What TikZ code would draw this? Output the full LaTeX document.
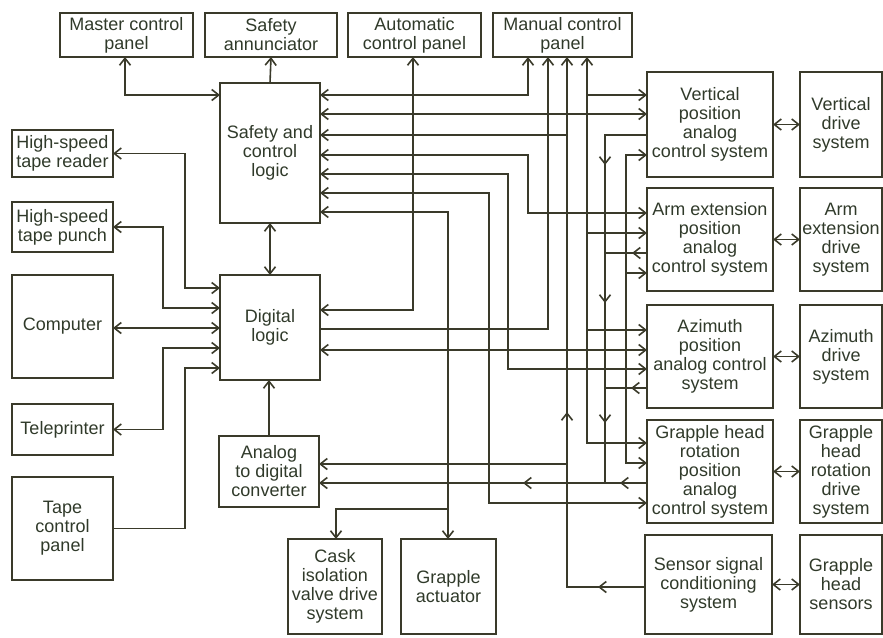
\documentclass[tikz,border=0pt]{standalone}
\usepackage{fontspec}
\setmainfont{Liberation Sans}
\usetikzlibrary{arrows.meta}
\definecolor{boxline}{RGB}{58,58,42}
\definecolor{boxtext}{RGB}{48,58,42}

\begin{document}
\begin{tikzpicture}[
  x=1pt, y=-1pt,
  >={Straight Barb[length=7pt,width=11pt]},
  every node/.style={
    draw=boxline, line width=1.4pt, text=boxtext, align=center,
    inner sep=0pt, outer sep=0pt, font=\fontsize{18}{19}\selectfont
  },
  toppanel/.style={minimum width=133pt, minimum height=44pt},
  leftunit/.style={minimum width=101pt},
  ctrlsys/.style={minimum width=126pt, minimum height=104pt},
  drivesys/.style={minimum width=82pt, minimum height=104pt},
  link/.style={draw=boxline, line width=1.6pt},
  ar/.style={link, ->},
  bi/.style={link, <->},
]
\useasboundingbox (0,0) rectangle (883,637);

% ---- Panels along the top ----
\node[toppanel]                    (mcp) at (126.5,35) {Master control\\panel};
\node[toppanel, minimum width=132pt] (ann) at (271,35)   {Safety\\annunciator};
\node[toppanel]                    (acp) at (414.5,35) {Automatic\\control panel};
\node[toppanel, minimum width=139pt] (man) at (562.5,35) {Manual control\\panel};

% ---- Logic column ----
\node[minimum width=100pt, minimum height=140pt] (scl)  at (270,153)   {Safety and\\control\\logic};
\node[minimum width=100pt, minimum height=105pt] (dl)   at (270,327.5) {Digital\\logic};
\node[minimum width=100pt, minimum height=71pt]  (adc)  at (269,471.5) {Analog\\to digital\\converter};
\node[minimum width=94pt,  minimum height=95pt]  (cask) at (335,586.5) {Cask\\isolation\\valve drive\\system};
\node[minimum width=95pt,  minimum height=95pt]  (gact) at (448.5,586.5) {Grapple\\actuator};

% ---- Peripherals on the left ----
\node[leftunit, minimum height=47pt]  (hstr) at (62.5,153.5) {High-speed\\tape reader};
\node[leftunit, minimum height=50pt]  (hstp) at (62.5,227)   {High-speed\\tape punch};
\node[leftunit, minimum height=103pt] (comp) at (62.5,326.5) {Computer};
\node[leftunit, minimum height=51pt]  (tele) at (62.5,429.5) {Teleprinter};
\node[leftunit, minimum height=103pt] (tcp)  at (62.5,528.5) {Tape\\control\\panel};

% ---- Control and drive systems on the right ----
\node[ctrlsys, minimum height=105pt]  (vcs) at (710,124.5) {Vertical\\position\\analog\\control system};
\node[drivesys, minimum height=105pt] (vds) at (841,124.5) {Vertical\\drive\\system};
\node[ctrlsys, minimum height=103pt]  (acs) at (710,239.5) {Arm extension\\position\\analog\\control system};
\node[drivesys, minimum height=103pt] (ads) at (841,239.5) {Arm\\extension\\drive\\system};
\node[ctrlsys, minimum height=103pt]  (zcs) at (710,356.5) {Azimuth\\position\\analog control\\system};
\node[drivesys, minimum height=103pt] (zds) at (841,356.5) {Azimuth\\drive\\system};
\node[ctrlsys, minimum height=103pt]  (gcs) at (710,471.5) {Grapple head\\rotation\\position\\analog\\control system};
\node[drivesys, minimum height=103pt] (gds) at (841,471.5) {Grapple\\head\\rotation\\drive\\system};
\node[ctrlsys, minimum width=127pt, minimum height=99pt] (scs) at (708.5,584.5) {Sensor signal\\conditioning\\system};
\node[drivesys, minimum height=99pt]  (ghs) at (841,584.5) {Grapple\\head\\sensors};

\foreach \a/\b in {vcs/vds, acs/ads, zcs/zds, gcs/gds, scs/ghs}
  \draw[bi] (\a.east) -- (\b.west);

% ---- Top panels ----
\draw[bi] (125,0 |- mcp.south) |- (scl.west |- 0,95);
\draw[ar] (scl.north) -- (ann.south);
\draw[bi] (dl.east |- 0,310) -| (413,0 |- acp.south);
\draw[bi] (528,0 |- man.south) |- (scl.east |- 0,95);
\draw[ar] (dl.east |- 0,329) -| (548,0 |- man.south);

% sensor signals up to manual panel, safety logic and converter
\draw[ar] (scs.west |- 0,587) -| (567,0 |- man.south);
\draw[ar] (567,135) -- (scl.east |- 0,135);
\draw[ar] (567,464) -- (adc.east |- 0,464);

% manual panel bus to the control systems
\draw[bi] (gcs.west |- 0,443) -| (587,0 |- man.south);
\draw[ar] (587,95)  -- (vcs.west |- 0,95);
\draw[ar] (587,233) -- (acs.west |- 0,233);
\draw[ar] (587,330) -- (zcs.west |- 0,330);

% ---- Safety logic to control systems and actuators ----
\draw[bi] (scl.east |- 0,114) -- (vcs.west |- 0,114);
\draw[bi] (scl.east |- 0,155) -| (528,213) -- (acs.west |- 0,213);
\draw[bi] (scl.east |- 0,174) -| (508,369) -- (zcs.west |- 0,369);
\draw[bi] (scl.east |- 0,193) -| (489,503) -- (gcs.west |- 0,503);
\draw[bi] (scl.east |- 0,212) -| (448,0 |- gact.north);
\draw[ar] (448,509) -| (336,0 |- cask.north);

% ---- Digital logic to control systems ----
\draw[bi] (dl.east |- 0,350) -- (zcs.west |- 0,350);
\draw[ar] (626,350) |- (vcs.west |- 0,155);
\draw[ar] (626,350) |- (acs.west |- 0,273);
\draw[ar] (626,350) |- (gcs.west |- 0,463);

% ---- Position feedback to converter ----
\draw[ar] (vcs.west |- 0,135) -| (605,483) -- (adc.east |- 0,483);
\draw[link] (acs.west |- 0,253) -- (605,253);
\draw[link] (zcs.west |- 0,388) -- (605,388);
\draw[link] (gcs.west |- 0,483) -- (605,483);
\foreach \ty in {165,303,423}
  \draw[ar] (605,\ty-15) -- (605,\ty);
\draw[ar] (567,427) -- (567,412);
\foreach \tx/\ty in {632/253, 631/388, 620/483, 523/483, 598/587}
  \draw[ar] (\tx+15,\ty) -- (\tx,\ty);

% ---- Logic column ----
\draw[bi] (scl.south) -- (dl.north);
\draw[ar] (adc.north) -- (adc.north |- dl.south);

% ---- Peripherals ----
\draw[bi] (hstr.east) -| (185,288) -- (dl.west |- 0,288);
\draw[bi] (hstp.east) -| (163,308) -- (dl.west |- 0,308);
\draw[bi] (comp.east |- 0,328) -- (dl.west |- 0,328);
\draw[bi] (tele.east) -| (163,348) -- (dl.west |- 0,348);
\draw[ar] (tcp.east) -| (185,368) -- (dl.west |- 0,368);

\end{tikzpicture}
\end{document}
